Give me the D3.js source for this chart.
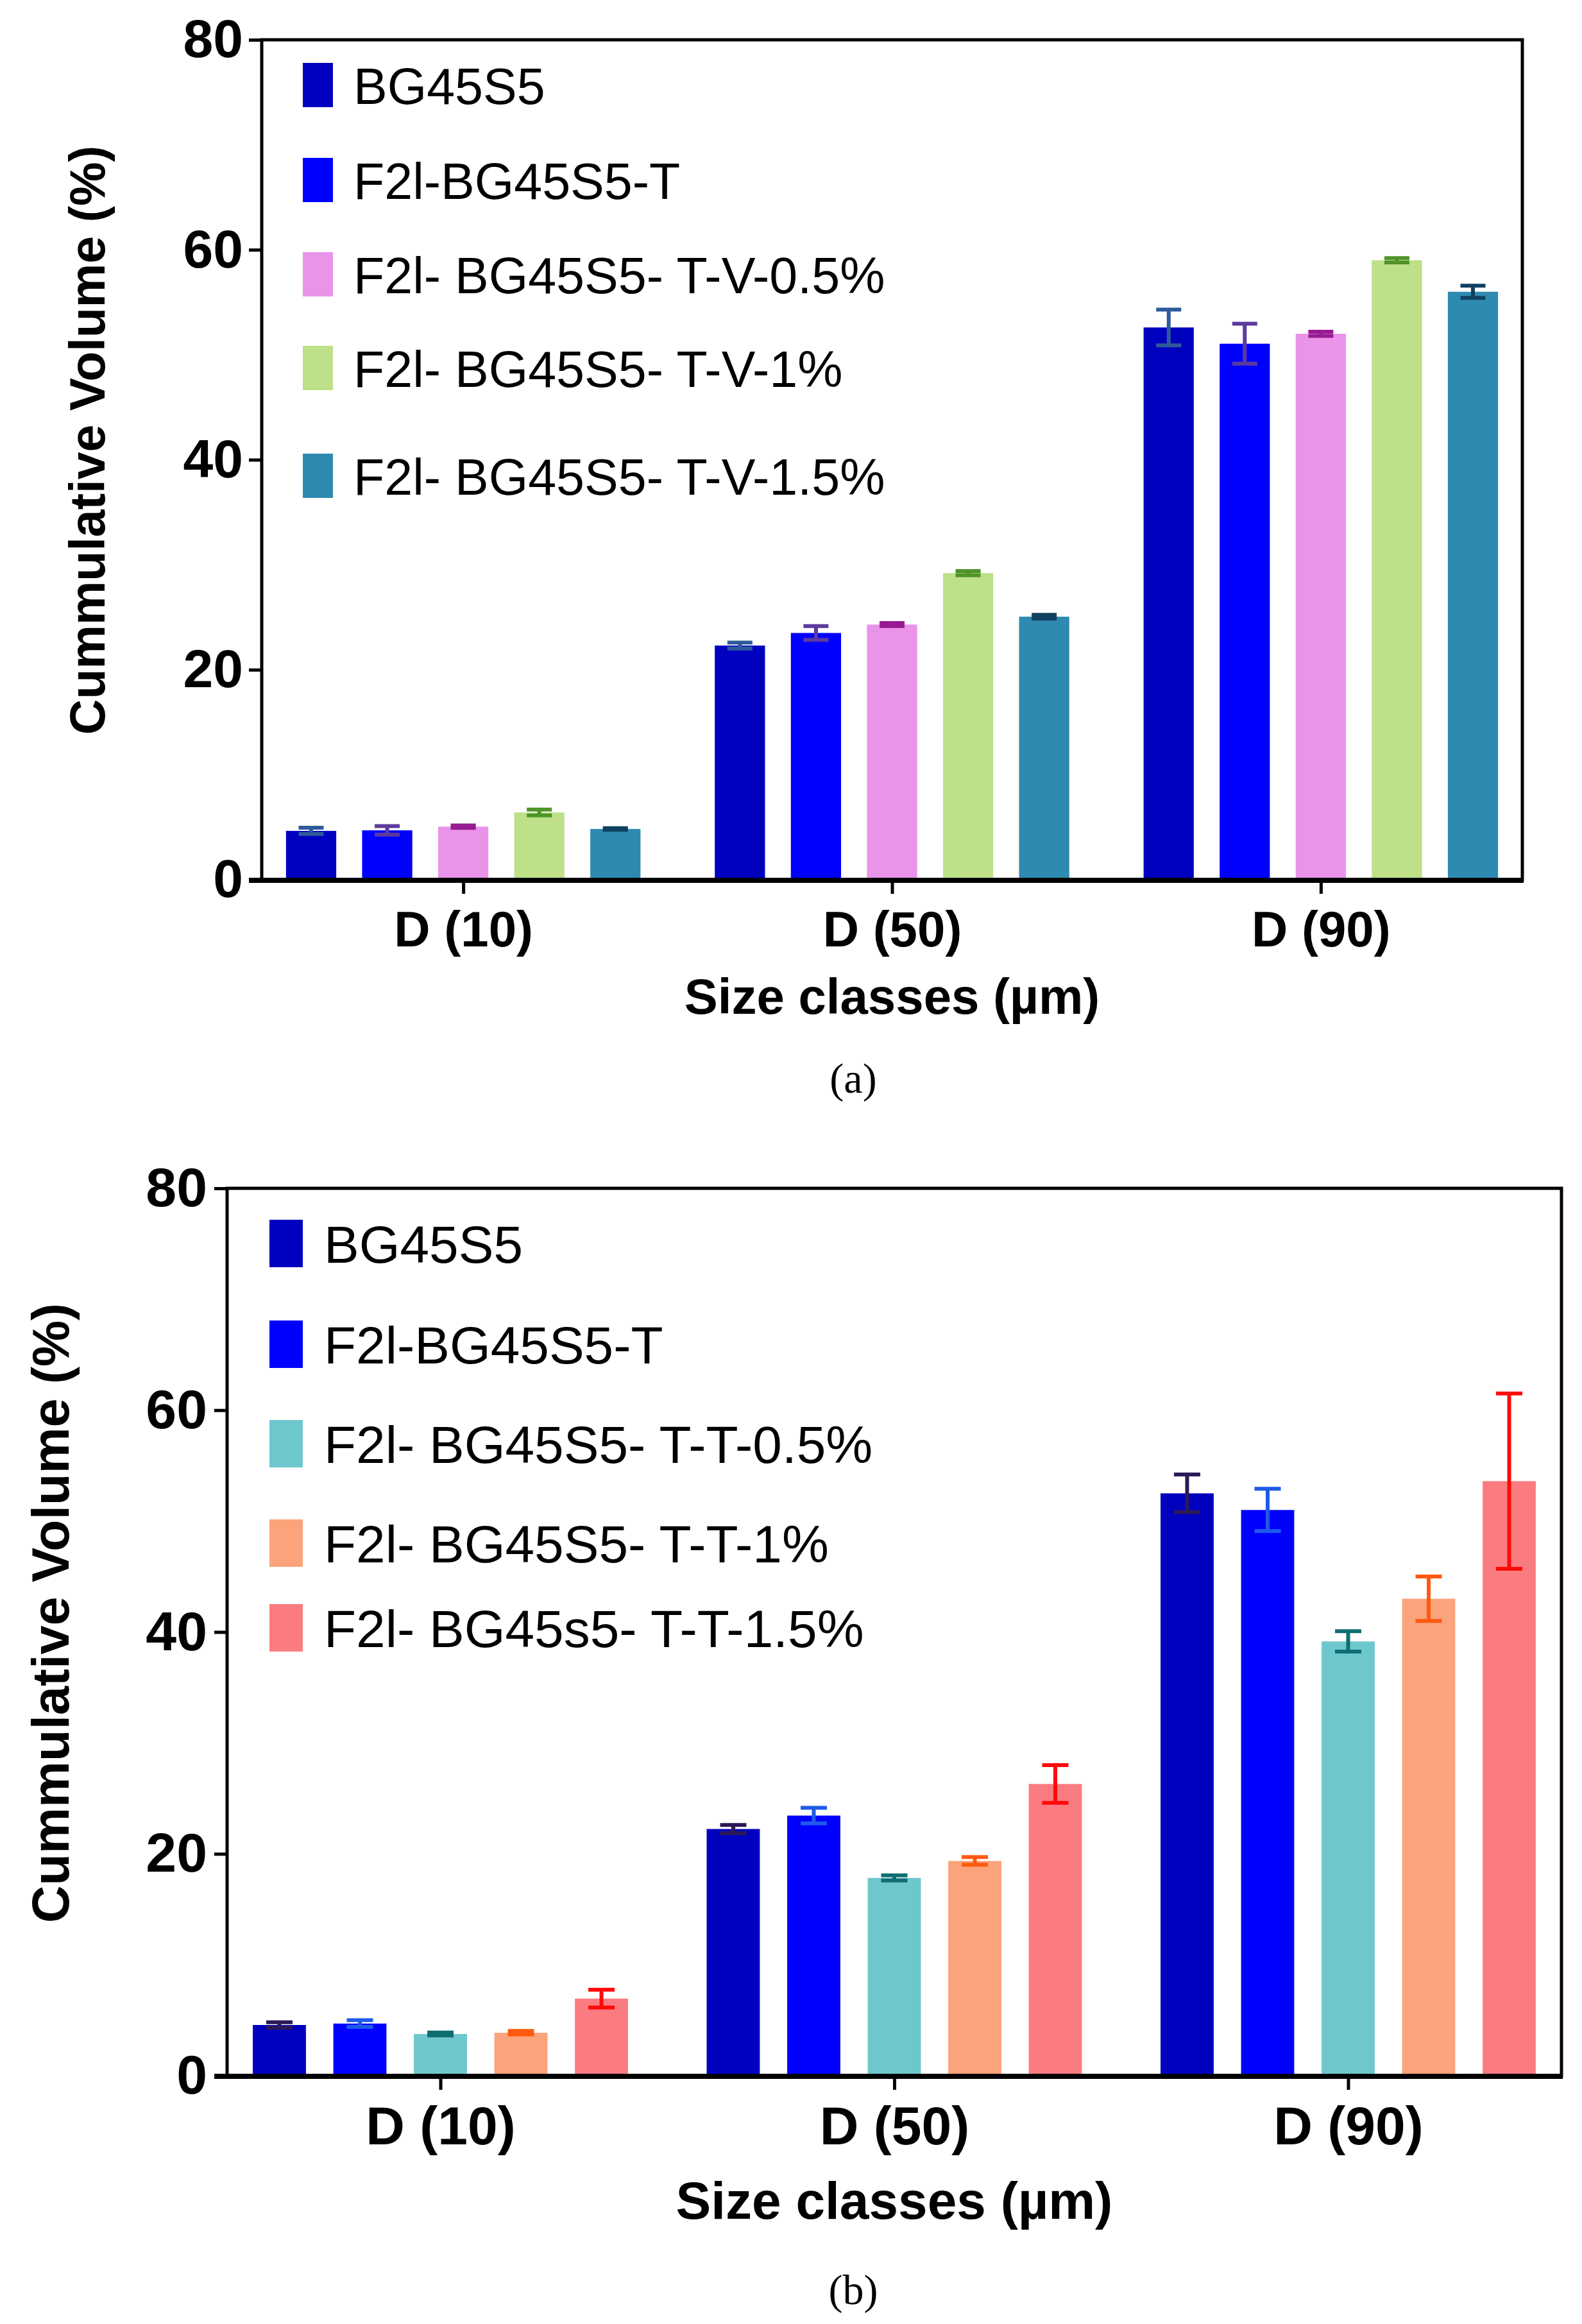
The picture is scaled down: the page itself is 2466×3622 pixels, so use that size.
<!DOCTYPE html>
<html>
<head>
<meta charset="utf-8">
<script src="https://cdn.jsdelivr.net/npm/d3@7"></script>
<style>
  body { margin: 0; background: #fff; }
  svg { display: block; }
</style>
</head>
<body>
<div id="chart"></div>
<script>
// ---- data ----
const categories = ["D (10)", "D (50)", "D (90)"];
const yTicks = [0, 20, 40, 60, 80];

// panel (a)
const seriesA = ["BG45S5", "F2l-BG45S5-T", "F2l- BG45S5- T-V-0.5%", "F2l- BG45S5- T-V-1%", "F2l- BG45S5- T-V-1.5%"];
const meansA = [
  [4.65, 22.3, 52.6],
  [4.7, 23.5, 51.05],
  [5.05, 24.3, 52.0],
  [6.4, 29.2, 59.0],
  [4.83, 25.05, 56.0]
];
const sdA = [
  [0.3, 0.28, 1.7],
  [0.4, 0.66, 1.9],
  [0.12, 0.15, 0.2],
  [0.28, 0.2, 0.2],
  [0.08, 0.18, 0.58]
];
const colorsA = ["#0000bf", "#0000ff", "#e994e9", "#bde088", "#2e8ab0"];
const errColorsA = ["#2e5a9c", "#5b3a9e", "#971b93", "#4e9426", "#0f4060"];

// panel (b)
const seriesB = ["BG45S5", "F2l-BG45S5-T", "F2l- BG45S5- T-T-0.5%", "F2l- BG45S5- T-T-1%", "F2l- BG45s5- T-T-1.5%"];
const meansB = [
  [4.57, 22.24, 52.5],
  [4.7, 23.45, 51.0],
  [3.76, 17.83, 39.15],
  [3.87, 19.36, 43.0],
  [6.95, 26.3, 53.6]
];
const sdB = [
  [0.25, 0.37, 1.7],
  [0.3, 0.7, 1.91],
  [0.13, 0.23, 0.92],
  [0.16, 0.35, 2.0],
  [0.8, 1.7, 7.9]
];
const colorsB = ["#0000bf", "#0000ff", "#6fc7ce", "#fba37b", "#fb7c80"];
const errColorsB = ["#2b1a55", "#1f5ae8", "#0e6e72", "#ff5a10", "#ff0a0a"];

// ---- layout ----
const W = 2466, H = 3622;
const svg = d3.select("#chart").append("svg")
  .attr("width", W).attr("height", H)
  .style("font-family", "'Liberation Sans', Arial, sans-serif");
svg.append("rect").attr("width", W).attr("height", H).attr("fill", "#fff");

const panels = [
  {
    series: seriesA, means: meansA, sd: sdA, colors: colorsA, errColors: errColorsA,
    left: 408, right: 2373, top: 62, bottom: 1371,
    tickFont: 84, tickPad: 9, catFont: 78, catBase: 104,
    xTitleY: 1580, xTitleFont: 78, yTitleX: 163, yTitleY: 686, yTitleFont: 77,
    legX: 472, legTextX: 551, legRows: [98, 246, 393, 539, 707], legW: 47, legH: 69, legBase: 64, legFont: 79,
    capW: 39, label: "(a)", labelY: 1703
  },
  {
    series: seriesB, means: meansB, sd: sdB, colors: colorsB, errColors: errColorsB,
    left: 354, right: 2434, top: 1852, bottom: 3235,
    tickFont: 86, tickPad: 11, catFont: 84, catBase: 107,
    xTitleY: 3458, xTitleFont: 82, yTitleX: 107, yTitleY: 2514, yTitleFont: 81,
    legX: 420, legTextX: 505, legRows: [1901, 2058, 2213, 2368, 2500], legW: 52, legH: 74, legBase: 67, legFont: 82,
    capW: 41, label: "(b)", labelY: 3591
  }
];

function drawPanel(p) {
  const g = svg.append("g");

  const x = d3.scalePoint().domain(categories).range([p.left, p.right]).padding(0.47);
  const groupW = x.step() * 0.887;
  const xs = d3.scaleBand().domain(d3.range(p.series.length))
    .range([-groupW / 2, groupW / 2]).paddingInner(0.34).paddingOuter(0.17);
  const y = d3.scaleLinear().domain([0, 80]).range([p.bottom, p.top]);

  // bars
  const rows = [];
  p.series.forEach((s, i) => categories.forEach((c, j) => {
    rows.push({ s: i, c: c, v: p.means[i][j], e: p.sd[i][j] });
  }));

  g.append("g").selectAll("rect").data(rows).join("rect")
    .attr("x", d => x(d.c) + xs(d.s))
    .attr("width", xs.bandwidth())
    .attr("y", d => y(d.v))
    .attr("height", d => y(0) - y(d.v))
    .attr("fill", d => p.colors[d.s]);

  // error bars
  const eg = g.append("g").attr("stroke-width", 6).attr("fill", "none");
  rows.forEach(d => {
    const cx = x(d.c) + xs(d.s) + xs.bandwidth() / 2;
    const col = p.errColors[d.s];
    eg.append("line").attr("x1", cx).attr("x2", cx)
      .attr("y1", y(d.v + d.e)).attr("y2", y(d.v - d.e)).attr("stroke", col);
    [d.v + d.e, d.v - d.e].forEach(v => {
      eg.append("line").attr("x1", cx - p.capW / 2).attr("x2", cx + p.capW / 2)
        .attr("y1", y(v)).attr("y2", y(v)).attr("stroke", col);
    });
  });

  // frame
  g.append("rect")
    .attr("x", p.left).attr("y", p.top)
    .attr("width", p.right - p.left).attr("height", p.bottom - p.top)
    .attr("fill", "none").attr("stroke", "#000").attr("stroke-width", 5);

  // y axis
  const ya = g.append("g").attr("transform", `translate(${p.left},0)`)
    .call(d3.axisLeft(y).tickValues(yTicks).tickSize(20).tickSizeOuter(0).tickPadding(p.tickPad));
  ya.select(".domain").remove();
  ya.selectAll(".tick line").attr("stroke", "#000").attr("stroke-width", 5);
  ya.selectAll(".tick text")
    .attr("fill", "#000").attr("font-size", p.tickFont).attr("font-weight", "bold")
    .attr("font-family", "'Liberation Sans', Arial, sans-serif");

  // x axis
  const xa = g.append("g").attr("transform", `translate(0,${p.bottom})`)
    .call(d3.axisBottom(x).tickSize(22).tickSizeOuter(0));
  xa.select(".domain").remove();
  xa.selectAll(".tick line").attr("stroke", "#000").attr("stroke-width", 5);
  xa.selectAll(".tick text")
    .attr("y", p.catBase).attr("dy", 0)
    .attr("fill", "#000").attr("font-size", p.catFont).attr("font-weight", "bold")
    .attr("font-family", "'Liberation Sans', Arial, sans-serif");

  // thick baseline
  g.append("line")
    .attr("x1", p.left - 20).attr("x2", p.right + 2)
    .attr("y1", p.bottom + 1).attr("y2", p.bottom + 1)
    .attr("stroke", "#000").attr("stroke-width", 8);

  // axis titles
  g.append("text")
    .attr("x", (p.left + p.right) / 2 - 0).attr("y", p.xTitleY)
    .attr("text-anchor", "middle").attr("font-size", p.xTitleFont).attr("font-weight", "bold")
    .text("Size classes (µm)");

  g.append("text")
    .attr("transform", `translate(${p.yTitleX},${p.yTitleY}) rotate(-90)`)
    .attr("text-anchor", "middle").attr("font-size", p.yTitleFont).attr("font-weight", "bold")
    .text("Cummulative Volume (%)");

  // legend
  const leg = g.append("g");
  p.series.forEach((s, i) => {
    leg.append("rect")
      .attr("x", p.legX).attr("y", p.legRows[i])
      .attr("width", p.legW).attr("height", p.legH)
      .attr("fill", p.colors[i]);
    leg.append("text")
      .attr("x", p.legTextX).attr("y", p.legRows[i] + p.legBase)
      .attr("font-size", p.legFont).attr("fill", "#000")
      .text(s);
  });

  // panel label
  g.append("text")
    .attr("x", 1330).attr("y", p.labelY)
    .attr("text-anchor", "middle")
    .attr("font-family", "'Liberation Serif', 'Times New Roman', serif")
    .attr("font-size", 66)
    .text(p.label);
}

panels.forEach(drawPanel);
</script>
</body>
</html>
